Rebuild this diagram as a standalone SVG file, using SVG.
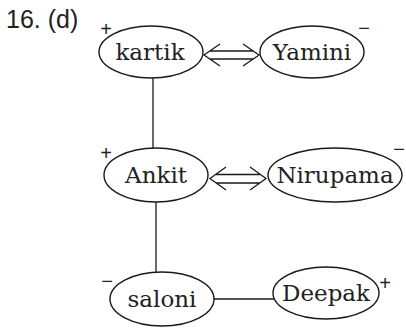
<svg xmlns="http://www.w3.org/2000/svg" width="406" height="329" viewBox="0 0 406 329">
<style>
.node ellipse{fill:#fff;stroke:#1a1a1a;stroke-width:1.4}
.node text{font-family:"DejaVu Serif",serif;font-size:23px;fill:#222;text-anchor:middle}
.sign{font-family:"Liberation Sans",sans-serif;font-size:20px;fill:#222;text-anchor:middle}
.conn path,.conn line{fill:none;stroke:#1a1a1a;stroke-width:1.3}
.title{font-family:"Liberation Sans",sans-serif;font-size:25px;fill:#222}
</style>
<rect width="406" height="329" fill="#fff"/>
<text class="title" x="6" y="28">16. (d)</text>
<g class="conn">
<line x1="153" y1="78" x2="153" y2="148"/>
<line x1="156" y1="202" x2="156" y2="272"/>
<line x1="214" y1="299" x2="274" y2="299"/>
<path d="M220,44 L204,55 L220,66 M210,51 H253 M210,59 H253 M243,44 L259,55 L243,66"/>
<path d="M226,167 L210,178.5 L226,190 M216,174.5 H260 M216,183 H260 M250,167 L266,178.5 L250,190"/>
</g>
<g id="kartik" class="node"><ellipse cx="151" cy="52" rx="52" ry="26"/><text x="150" y="60">kartik</text></g>
<g id="yamini" class="node"><ellipse cx="312" cy="52" rx="52" ry="26"/><text x="312" y="60">Yamini</text></g>
<g id="ankit" class="node"><ellipse cx="156" cy="175" rx="52" ry="27"/><text x="156" y="183">Ankit</text></g>
<g id="nirupama" class="node"><ellipse cx="335" cy="175" rx="67" ry="27"/><text x="335" y="183">Nirupama</text></g>
<g id="saloni" class="node"><ellipse cx="162" cy="299" rx="52" ry="27"/><text x="162" y="307">saloni</text></g>
<g id="deepak" class="node"><ellipse cx="326" cy="293" rx="53" ry="26"/><text x="326" y="301">Deepak</text></g>
<text class="sign" x="106" y="36">+</text>
<text class="sign" x="364" y="35">−</text>
<text class="sign" x="106" y="160">+</text>
<text class="sign" x="399" y="156">−</text>
<text class="sign" x="107" y="288">−</text>
<text class="sign" x="385" y="290">+</text>
</svg>
